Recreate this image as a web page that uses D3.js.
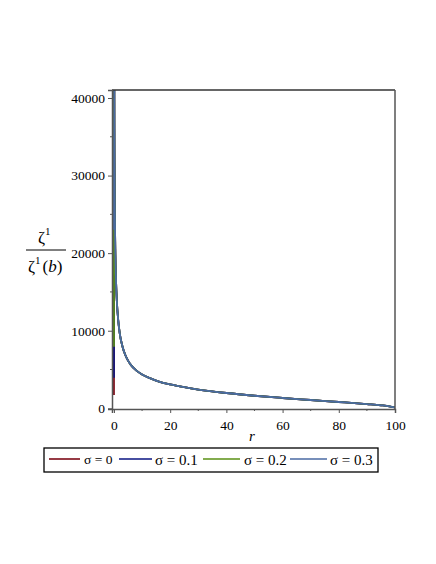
<!DOCTYPE html>
<html><head><meta charset="utf-8">
<script src="https://cdn.jsdelivr.net/npm/d3@7"></script>
<style>body{margin:0;background:#fff}svg{display:block}</style>
</head><body>
<svg id="c" width="436" height="564"></svg>
<script>
const seriesNames = ["σ = 0", "σ = 0.1", "σ = 0.2", "σ = 0.3"];
const seriesColors = ["#7d0a16", "#0a1482", "#5a9014", "#4a6aa3"];
// starting value of each series at r = 0
const startValues = [1700, 3950, 7950, 23000];
// common curve shared by all series
const tailR = [0.1, 0.15, 0.2, 0.3, 0.5, 0.75, 1, 1.5, 2, 3, 4, 5, 6, 8, 10, 13, 16, 20, 25, 30, 40, 50, 60, 70, 80, 90, 95, 98, 100];
const tailV = [44300, 36100, 31300, 25500, 19800, 16200, 14000, 11400, 9800, 8000, 6900, 6150, 5600, 4850, 4350, 3850, 3450, 3080, 2720, 2420, 1970, 1620, 1330, 1070, 810, 540, 390, 260, 110];
const xTicks = [0, 20, 40, 60, 80, 100];
const yTicks = [0, 10000, 20000, 30000, 40000];

const FONT = '"Liberation Serif", "Times New Roman", serif';
const svg = d3.select("#c");
const L = 112, T = 90, R = 395, B = 409;
const x = d3.scaleLinear().domain([-0.7, 100]).range([L, R]);
const y = d3.scaleLinear().domain([-90, 41030]).range([B, T]);

svg.append("clipPath").attr("id", "clip").append("rect")
  .attr("x", L).attr("y", T).attr("width", R - L).attr("height", B - T);

const series = seriesNames.map((n, i) => {
  const pts = [[0, startValues[i]]].concat(tailR.map((r, k) => [r, tailV[k]]));
  return {name: n, color: seriesColors[i], pts};
});

const line = d3.line().x(d => x(d[0])).y(d => y(d[1])).curve(d3.curveMonotoneX);
const g = svg.append("g").attr("clip-path", "url(#clip)");
series.forEach(s => {
  g.append("path").attr("d", line(s.pts)).attr("fill", "none")
    .attr("stroke", s.color).attr("stroke-width", 1.8);
});

// frame
const frameColor = "#555";
svg.append("line").attr("x1", L).attr("x2", R).attr("y1", T).attr("y2", T).attr("stroke", "#333").attr("stroke-width", 1.3);
svg.append("line").attr("x1", R).attr("x2", R).attr("y1", T).attr("y2", B).attr("stroke", frameColor).attr("stroke-width", 1.5);

// axes
const xAxis = d3.axisBottom(x).tickValues(xTicks).tickSize(4).tickFormat(d3.format("d"));
const yAxis = d3.axisLeft(y).tickValues(yTicks).tickSize(4).tickFormat(d3.format("d"));
const gx = svg.append("g").attr("transform", `translate(0,${B})`).call(xAxis);
const gy = svg.append("g").attr("transform", `translate(${L},0)`).call(yAxis);
[gx, gy].forEach(a => {
  a.attr("font-family", null).attr("font-size", null);
  a.select(".domain").attr("stroke", frameColor).attr("stroke-width", 1.5);
  a.selectAll(".tick line").attr("stroke", frameColor);
  a.selectAll("text").style("font-family", FONT).style("font-size", "13.5px").attr("fill", "#000");
});
gx.selectAll("text").attr("dy", "1.05em");
// minor ticks
const xMinor = d3.range(10, 100, 20);
const yMinor = d3.range(5000, 41000, 10000);
svg.append("g").selectAll("line").data(xMinor).join("line")
  .attr("x1", d => x(d)).attr("x2", d => x(d)).attr("y1", B).attr("y2", B + 2).attr("stroke", frameColor);
svg.append("g").selectAll("line").data(yMinor).join("line")
  .attr("x1", L).attr("x2", L - 2).attr("y1", d => y(d)).attr("y2", d => y(d)).attr("stroke", frameColor);

// axis labels
svg.append("text").attr("x", 252).attr("y", 441).attr("text-anchor", "middle")
  .style("font-family", FONT).style("font-style", "italic").style("font-size", "15px").text("r");

const yl = svg.append("g").attr("fill", "#000");
const t1 = yl.append("text").attr("x", 38).attr("y", 243).style("font-family", FONT).style("font-size", "17px");
t1.append("tspan").text("ζ");
t1.append("tspan").style("font-size", "11px").attr("dy", -8).text("1");
yl.append("line").attr("x1", 26).attr("x2", 66).attr("y1", 250).attr("y2", 250).attr("stroke", "#000").attr("stroke-width", 1);
const t2 = yl.append("text").attr("x", 28).attr("y", 272).style("font-family", FONT).style("font-size", "17px");
t2.append("tspan").text("ζ");
t2.append("tspan").style("font-size", "11px").attr("dy", -8).text("1");
t2.append("tspan").attr("dy", 8).attr("dx", 2).text("(");
t2.append("tspan").style("font-style", "italic").text("b");
t2.append("tspan").text(")");

// legend
svg.append("rect").attr("x", 44).attr("y", 448).attr("width", 334).attr("height", 24)
  .attr("fill", "none").attr("stroke", "#000").attr("stroke-width", 1.3);
const legLineX = [49, 119, 203, 290];
const legLineW = [31, 33, 37, 37];
const legTextX = [84, 155, 244, 330];
const legFont = [13.5, 15, 15, 15];
series.forEach((s, i) => {
  svg.append("line").attr("x1", legLineX[i]).attr("x2", legLineX[i] + legLineW[i])
    .attr("y1", 459).attr("y2", 459).attr("stroke", s.color).attr("stroke-width", 1.6);
  svg.append("text").attr("x", legTextX[i]).attr("y", i === 0 ? 464 : 465)
    .style("font-family", FONT).style("font-size", legFont[i] + "px").text(s.name);
});
</script>
</body></html>
